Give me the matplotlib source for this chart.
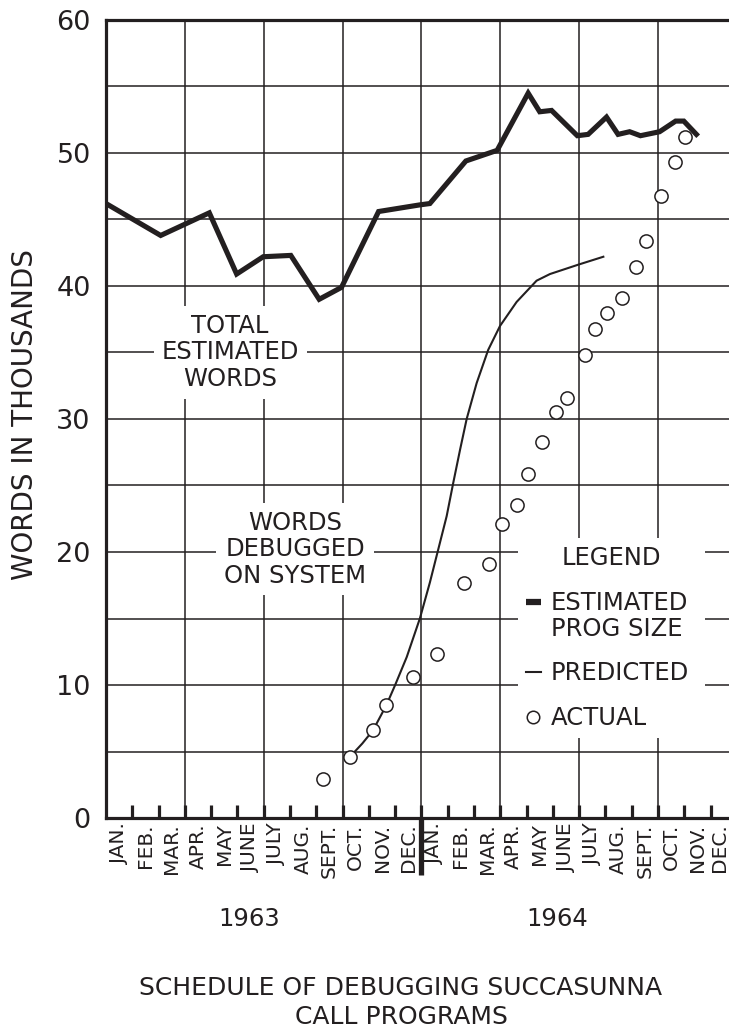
import matplotlib
matplotlib.use("Agg")
import matplotlib.pyplot as plt
from matplotlib.lines import Line2D
from matplotlib.legend_handler import HandlerLine2D

plt.rcParams['font.family'] = ['DejaVu Sans']

INK = "#231f20"

# ---------------- data (months since Jan 1963, thousands of words) ----------------
month_labels = ["JAN.", "FEB.", "MAR.", "APR.", "MAY", "JUNE",
                "JULY", "AUG.", "SEPT.", "OCT.", "NOV.", "DEC."] * 2
years = ["1963", "1964"]

est_x = [0, 2.08, 3.93, 4.97, 5.98, 7.03, 8.11, 8.96, 10.37, 11.94, 12.32, 13.69,
         14.88, 16.06, 16.5, 16.95, 17.93, 18.34, 19.04, 19.48, 19.92, 20.33,
         21.06, 21.67, 21.98, 22.46]
est_y = [46.2, 43.8, 45.5, 40.9, 42.2, 42.3, 39.0, 39.9, 45.6, 46.1, 46.2, 49.4,
         50.2, 54.5, 53.1, 53.2, 51.3, 51.4, 52.7, 51.4, 51.6, 51.3,
         51.6, 52.4, 52.4, 51.4]

pred_x = [9.28, 9.75, 10.16, 10.67, 11.0, 11.44, 11.94, 12.32, 12.64, 12.96, 13.21,
          13.47, 13.72, 14.10, 14.54, 14.99, 15.62, 16.38, 16.89, 17.96, 18.92]
pred_y = [4.6, 5.6, 6.6, 8.5, 10.0, 12.1, 15.0, 17.7, 20.2, 22.7, 25.2,
          27.7, 30.0, 32.7, 35.2, 37.0, 38.8, 40.4, 40.9, 41.6, 42.2]

act_x = [8.26, 9.28, 10.16, 10.67, 11.69, 12.6, 13.61, 14.57, 15.08, 15.62, 16.07,
         16.57, 17.11, 17.52, 18.21, 18.62, 19.06, 19.62, 20.18, 20.56, 21.13,
         21.63, 22.04]
act_y = [2.9, 4.6, 6.6, 8.5, 10.6, 12.3, 17.7, 19.1, 22.1, 23.5, 25.9,
         28.3, 30.5, 31.6, 34.8, 36.8, 38.0, 39.1, 41.4, 43.4, 46.8,
         49.3, 51.2]

yticks = [0, 10, 20, 30, 40, 50, 60]

# ---------------- figure ----------------
W, H = 729, 1032
fig = plt.figure(figsize=(W / 100, H / 100), dpi=100)
ax = fig.add_axes([106 / W, (H - 818) / H, (W - 106) / W, (818 - 20) / H])
XMAX = 23.7
ax.set_xlim(0, XMAX)
ax.set_ylim(0, 60)

# grid
for v in range(5, 60, 5):
    ax.axhline(v, color=INK, lw=1.1, zorder=1)
for m in range(3, 24, 3):
    ax.axvline(m, color=INK, lw=1.1, zorder=1)

# spines
for s in ["left", "bottom", "top"]:
    ax.spines[s].set_linewidth(2.3)
    ax.spines[s].set_color(INK)
ax.spines["right"].set_visible(False)

# y ticks
ax.set_yticks(yticks)
ax.set_yticklabels([str(t) for t in yticks], fontsize=19.5, color=INK)
ax.tick_params(axis="y", length=0, pad=11)

# x ticks: month boundaries (inward) + month names centred
bounds = list(range(1, 24))
ax.set_xticks(bounds)
ax.set_xticklabels([""] * len(bounds))
ax.tick_params(axis="x", which="major", direction="in", length=9.5, width=2.3,
               color=INK)
centers = [min(i + 0.5, XMAX - 0.38) for i in range(len(month_labels))]
ax.set_xticks(centers, minor=True)
ax.set_xticklabels(month_labels, minor=True, rotation=90, fontsize=14.5,
                   color=INK, va="top", ha="center")
ax.tick_params(axis="x", which="minor", length=0, pad=4)

# year divider
ax.axvline(12, ymin=-57 / 798, ymax=0, color=INK, lw=3.8, clip_on=False,
           solid_capstyle="butt")

# data
ax.plot(est_x, est_y, color=INK, lw=3.7, solid_joinstyle="miter", zorder=4)
ax.plot(pred_x, pred_y, color=INK, lw=1.5, zorder=4)
ax.plot(act_x, act_y, ls="none", marker="o", ms=9.5, mfc="white", mec=INK,
        mew=1.1, zorder=5)

# annotations with white boxes that interrupt the grid
ax.text(4.72, 35.0, "TOTAL\nESTIMATED\nWORDS", ha="center", va="center",
        fontsize=17.5, color=INK, linespacing=1.12, zorder=3,
        bbox=dict(boxstyle="square,pad=0.32", fc="white", ec="none"))
ax.text(7.19, 20.2, "WORDS\nDEBUGGED\nON SYSTEM", ha="center", va="center",
        fontsize=17.5, color=INK, linespacing=1.12, zorder=3,
        bbox=dict(boxstyle="square,pad=0.32", fc="white", ec="none"))


class RaisedLine(HandlerLine2D):
    """Line handle aligned with the first line of a two-line label."""
    def create_artists(self, legend, orig_handle, xdescent, ydescent, width,
                       height, fontsize, trans):
        arts = super().create_artists(legend, orig_handle, xdescent, ydescent,
                                      width, height, fontsize, trans)
        for a in arts:
            a.set_ydata([y + 0.62 * fontsize for y in a.get_ydata()])
        return arts


h_est = Line2D([], [], color=INK, lw=4.5, solid_capstyle="butt")
h_pred = Line2D([], [], color=INK, lw=1.5)
h_act = Line2D([], [], ls="none", marker="o", ms=9, mfc="white", mec=INK,
               mew=1.1)
labels = ["ESTIMATED\nPROG SIZE", "PREDICTED", "ACTUAL"]
x0 = (518 - 106) / 623
x1 = (705 - 106) / 623
y0 = (818 - 737) / 798
y1 = (818 - 538) / 798
leg = ax.legend([h_est, h_pred, h_act], labels, title="LEGEND",
                loc="upper left", mode="expand",
                bbox_to_anchor=(x0, y0, x1 - x0, y1 - y0),
                frameon=True, fancybox=False, edgecolor="none",
                facecolor="white", framealpha=1, fontsize=17.5,
                title_fontsize=17.5, handlelength=0.62, handletextpad=0.42,
                borderpad=0.32, borderaxespad=0, labelspacing=0.86,
                handler_map={h_est: RaisedLine()})
leg.set_zorder(6)
for t in leg.get_texts():
    t.set_color(INK)
    t.set_linespacing(1.1)
leg.get_title().set_color(INK)

# axis label
fig.text(25 / W, 1 - 415 / H, "WORDS IN THOUSANDS", rotation=90, ha="center",
         va="center", fontsize=20, color=INK)

# year labels
fig.text(249 / W, 1 - 919 / H, years[0], ha="center", va="center",
         fontsize=17.5, color=INK)
fig.text(557 / W, 1 - 919 / H, years[1], ha="center", va="center",
         fontsize=17.5, color=INK)

# title (at the bottom)
fig.text(401 / W, 1 - 988 / H, "SCHEDULE OF DEBUGGING SUCCASUNNA", ha="center",
         va="center", fontsize=18, color=INK)
fig.text(401 / W, 1 - 1017 / H, "CALL PROGRAMS", ha="center",
         va="center", fontsize=18, color=INK)

fig.savefig("out.png", dpi=100)
